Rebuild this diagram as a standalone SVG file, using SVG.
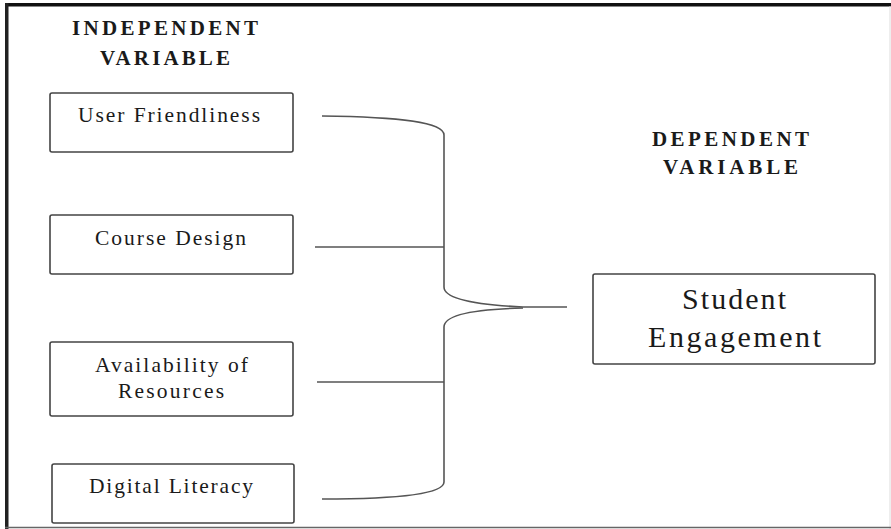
<svg xmlns="http://www.w3.org/2000/svg" width="891" height="529" viewBox="0 0 891 529">
<style>
.box{fill:#fff;stroke:#444;stroke-width:1.6}
.t{font-family:"Liberation Serif","DejaVu Serif",serif;fill:#1a1a1a;text-anchor:start}
.lbl{font-size:21.5px}
.big{font-size:30px}
.hd{font-size:21px;font-weight:bold}
.con{fill:none;stroke:#555;stroke-width:1.6}
</style>
<rect x="0" y="0" width="891" height="529" fill="#fff"/>
<g id="frame">
<rect x="5" y="3" width="886" height="3.5" fill="#111"/>
<rect x="5" y="3" width="3.5" height="526" fill="#222"/>
<line x1="890" y1="6" x2="890" y2="529" stroke="#ddd" stroke-width="1"/>
<line x1="5" y1="527.5" x2="891" y2="527.5" stroke="#666" stroke-width="1.5"/>
</g>
<g id="heading-independent">
<text class="t hd" x="72" y="35" textLength="186" lengthAdjust="spacing">INDEPENDENT</text>
<text class="t hd" x="100" y="65" textLength="130" lengthAdjust="spacing">VARIABLE</text>
</g>
<g id="heading-dependent">
<text class="t hd" x="652" y="146" textLength="157" lengthAdjust="spacing">DEPENDENT</text>
<text class="t hd" x="663" y="174" textLength="135" lengthAdjust="spacing">VARIABLE</text>
</g>
<g id="node-user-friendliness">
<rect class="box" x="50" y="93" width="243" height="59" rx="2"/>
<text class="t lbl" x="78" y="122" textLength="182" lengthAdjust="spacing">User Friendliness</text>
</g>
<g id="node-course-design">
<rect class="box" x="50" y="215" width="243" height="59" rx="2"/>
<text class="t lbl" x="95" y="245" textLength="151" lengthAdjust="spacing">Course Design</text>
</g>
<g id="node-availability">
<rect class="box" x="50" y="342" width="243" height="74" rx="2"/>
<text class="t lbl" x="95" y="372" textLength="153" lengthAdjust="spacing">Availability of</text>
<text class="t lbl" x="118" y="398" textLength="106" lengthAdjust="spacing">Resources</text>
</g>
<g id="node-digital-literacy">
<rect class="box" x="52" y="464" width="242" height="59" rx="2"/>
<text class="t lbl" x="89" y="493" textLength="164" lengthAdjust="spacing">Digital Literacy</text>
</g>
<g id="node-student-engagement">
<rect class="box" x="593" y="274" width="282" height="90" rx="2"/>
<text class="t big" x="682" y="309" textLength="104" lengthAdjust="spacing">Student</text>
<text class="t big" x="648" y="347" textLength="173" lengthAdjust="spacing">Engagement</text>
</g>
<g id="connectors">
<path class="con" d="M322,116 C400,117 444,122 444,135 L444,287 C444,300 480,305 523,307 L567,307"/>
<path class="con" d="M523,308 C480,309 444,314 444,327 L444,482 C444,494 400,499 322,499"/>
<line class="con" x1="315" y1="247" x2="444" y2="247"/>
<line class="con" x1="317" y1="382" x2="444" y2="382"/>
</g>
</svg>
